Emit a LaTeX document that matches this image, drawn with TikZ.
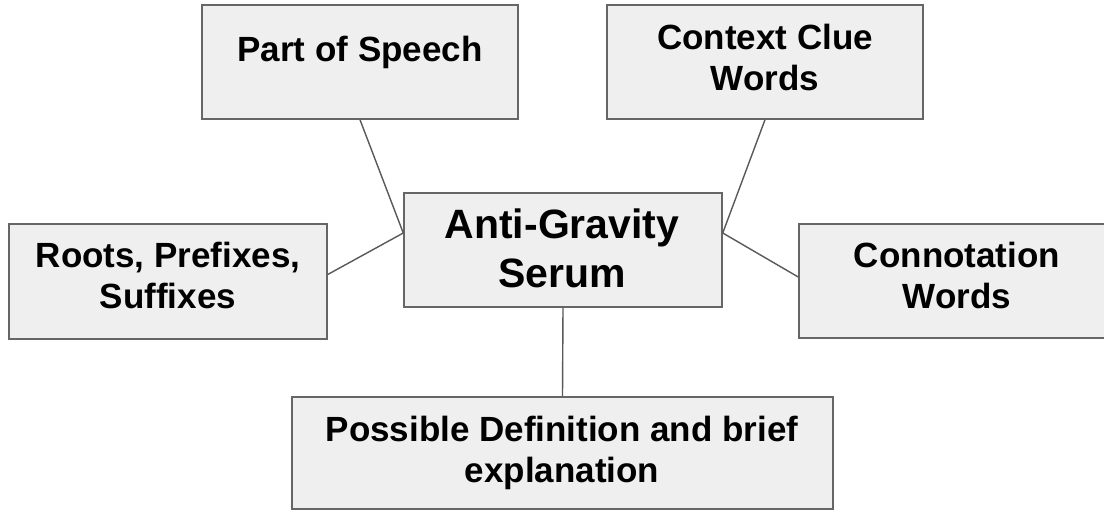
\documentclass[tikz,border=0pt]{standalone}
\usepackage{fontspec}
\setmainfont{Liberation Sans}
\definecolor{boxfill}{HTML}{EFEFEF}
\definecolor{boxline}{HTML}{666666}
\definecolor{linkcol}{HTML}{595959}
\begin{document}
\begin{tikzpicture}[x=1pt,y=-1pt,
  box/.style={draw=boxline, fill=boxfill, line width=1.5pt, rectangle, inner sep=0pt},
  txt/.style={anchor=base, inner sep=0pt, font=\fontsize{35}{41}\selectfont\bfseries},
  bigtxt/.style={anchor=base, inner sep=0pt, font=\fontsize{41}{49}\selectfont\bfseries},
  link/.style={draw=linkcol, line width=1.4pt}]
\useasboundingbox[fill=white] (0,0) rectangle (1104,511);
% boxes
\node[box, minimum width=316pt, minimum height=114pt] (ps) at (360,62) {};
\node[box, minimum width=316pt, minimum height=114pt] (cc) at (765,62) {};
\node[box, minimum width=318pt, minimum height=115pt] (rp) at (168,281.5) {};
\node[box, minimum width=318pt, minimum height=114pt] (ag) at (563,250) {};
\node[box, minimum width=318pt, minimum height=114pt] (cw) at (958,281) {};
\node[box, minimum width=541pt, minimum height=112pt] (pd) at (562.5,453) {};
% texts
\node[txt] (psA) at (360,62) {Part of Speech};
\node[txt] (ccA) at (765,50) {Context Clue};
\node[txt] (ccB) at (765,91) {Words};
\node[txt] (rpA) at (168,267) {Roots, Prefixes,};
\node[txt] (rpB) at (168,308) {Suffixes};
\node[bigtxt] (agA) at (562,238) {Anti-Gravity};
\node[bigtxt] (agB) at (562,287) {Serum};
\node[txt] (cwA) at (957,267) {Connotation};
\node[txt] (cwB) at (957,308) {Words};
\node[txt] (pdA) at (562,441) {Possible Definition and brief};
\node[txt] (pdB) at (562,482) {explanation};
% connection points
\coordinate (agL) at ([yshift=17pt]ag.west);
\coordinate (agR) at ([yshift=17pt]ag.east);
% connectors
\draw[link] (ps.south) -- (agL);
\draw[link] ([yshift=7pt]rp.east) -- (agL);
\draw[link] (cc.south) -- (agR);
\draw[link] ([yshift=4pt]cw.west) -- (agR);
\draw[link] (ag.south) -- (pd.north);
\end{tikzpicture}
\end{document}
